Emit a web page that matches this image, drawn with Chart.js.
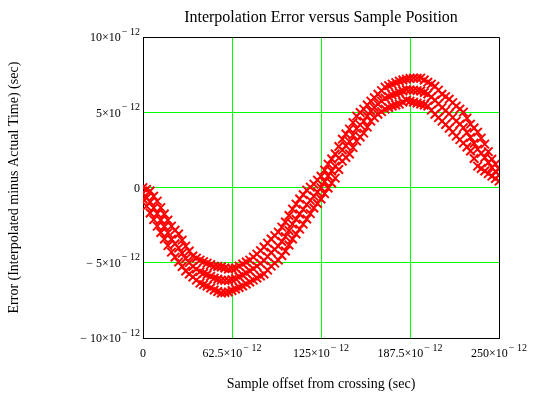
<!DOCTYPE html>
<html>
<head>
<meta charset="utf-8">
<script src="https://cdn.jsdelivr.net/npm/chart.js@4/dist/chart.umd.min.js"></script>
<style>
  html, body { margin: 0; padding: 0; background: #fff; }
  #wrap { width: 545px; height: 397px; }
</style>
</head>
<body>
<div id="wrap"><canvas id="chart" width="545" height="397"></canvas></div>
<script>
// sample offsets (units of 1e-12 sec)
const sampleOffsets = [0, 5, 10, 15, 20, 25, 30, 35, 40, 45, 50, 55, 60, 65, 70, 75, 80, 85, 90, 95,
	100, 105, 110, 115, 120, 125, 130, 135, 140, 145, 150, 155, 160, 165, 170, 175, 180, 185, 190, 195,
	200, 205, 210, 215, 220, 225, 230, 235, 240, 245, 250];
const halfOffsets = [2.5, 7.5, 12.5, 17.5, 22.5, 27.5, 32.5, 37.5, 42.5, 47.5, 52.5, 57.5, 62.5, 67.5, 72.5, 77.5, 82.5, 87.5, 92.5, 97.5,
	102.5, 107.5, 112.5, 117.5, 122.5, 127.5, 132.5, 137.5, 142.5, 147.5, 152.5, 157.5, 162.5, 167.5, 172.5, 177.5, 182.5, 187.5, 192.5, 197.5,
	202.5, 207.5, 212.5, 217.5, 222.5, 227.5, 232.5, 237.5, 242.5, 247.5];

// error (units of 1e-12 sec): upper edge, middle, lower edge
const errUpper = [0.0, -0.23, -0.9, -1.76, -2.56, -3.09, -3.89, -4.55, -4.82, -5.02, -5.22, -5.28, -5.42, -5.35, -5.08, -4.82, -4.42, -3.95, -3.42, -2.96,
	-2.29, -1.43, -0.76, -0.17, 0.23, 0.76, 1.56, 2.23, 3.22, 3.89, 4.75, 5.22, 5.75, 6.21, 6.68, 6.88, 7.08, 7.21, 7.28, 7.28,
	7.01, 6.74, 6.21, 5.88, 5.42, 5.02, 4.22, 3.69, 2.89, 1.89, 1.23];
const errMid = [-0.38, -0.96, -1.73, -2.59, -3.43, -4.02, -4.72, -5.25, -5.59, -5.78, -6.02, -6.15, -6.18, -6.05, -5.81, -5.55, -5.22, -4.85, -4.32, -3.89,
	-3.26, -2.43, -1.76, -1.13, -0.57, 0.0, 0.77, 1.43, 2.49, 3.06, 3.92, 4.42, 5.09, 5.55, 5.95, 6.15, 6.32, 6.51, 6.48, 6.42,
	6.22, 5.81, 5.32, 4.92, 4.42, 3.99, 3.33, 2.56, 2.0, 1.33, 0.83];
const errLower = [-0.76, -1.69, -2.56, -3.42, -4.29, -4.95, -5.55, -5.95, -6.35, -6.54, -6.81, -7.01, -6.94, -6.74, -6.54, -6.28, -6.01, -5.75, -5.22, -4.82,
	-4.22, -3.42, -2.76, -2.09, -1.36, -0.76, -0.03, 0.63, 1.76, 2.23, 3.09, 3.62, 4.42, 4.88, 5.22, 5.42, 5.55, 5.81, 5.68, 5.55,
	5.42, 4.88, 4.42, 3.95, 3.42, 2.96, 2.43, 1.43, 1.10, 0.76, 0.43];

// same band at the half offsets
const errUpperB = [-0.12, -0.57, -1.33, -2.16, -2.83, -3.49, -4.22, -4.69, -4.92, -5.12, -5.25, -5.35, -5.39, -5.22, -4.95, -4.62, -4.19, -3.69, -3.19, -2.63,
	-1.86, -1.10, -0.47, 0.03, 0.50, 1.16, 1.90, 2.73, 3.56, 4.32, 4.99, 5.49, 5.98, 6.45, 6.78, 6.98, 7.15, 7.25, 7.28, 7.15,
	6.88, 6.48, 6.05, 5.65, 5.22, 4.62, 3.96, 3.29, 2.39, 1.56];
const errMidB = [-0.67, -1.35, -2.16, -3.01, -3.73, -4.37, -4.99, -5.42, -5.69, -5.90, -6.09, -6.17, -6.12, -5.93, -5.68, -5.39, -5.04, -4.59, -4.11, -3.58,
	-2.85, -2.10, -1.45, -0.85, -0.29, 0.39, 1.10, 1.96, 2.78, 3.49, 4.17, 4.76, 5.32, 5.75, 6.05, 6.24, 6.42, 6.50, 6.45, 6.32,
	6.02, 5.57, 5.12, 4.67, 4.21, 3.66, 2.95, 2.28, 1.67, 1.08];
const errLowerB = [-1.23, -2.13, -2.99, -3.86, -4.62, -5.25, -5.75, -6.15, -6.45, -6.68, -6.91, -6.98, -6.84, -6.64, -6.41, -6.15, -5.88, -5.49, -5.02, -4.52,
	-3.82, -3.09, -2.43, -1.73, -1.06, -0.40, 0.30, 1.20, 2.00, 2.66, 3.36, 4.02, 4.65, 5.05, 5.32, 5.49, 5.68, 5.75, 5.62, 5.49,
	5.15, 4.65, 4.19, 3.69, 3.19, 2.70, 1.93, 1.27, 0.93, 0.60];

// tick values and labels: [mantissa, exponent]
const xTickValues = [0, 62.5, 125, 187.5, 250];
const xTickLabels = [['0', ''], ['62.5\u00d710', '\u2212 12'], ['125\u00d710', '\u2212 12'], ['187.5\u00d710', '\u2212 12'], ['250\u00d710', '\u2212 12']];
const yTickValues = [10, 5, 0, -5, -10];
const yTickLabels = [['10\u00d710', '\u2212 12'], ['5\u00d710', '\u2212 12'], ['0', ''], ['\u2212 5\u00d710', '\u2212 12'], ['\u2212 10\u00d710', '\u2212 12']];

const SERIF = '"Liberation Serif", "Times New Roman", serif';

function pts(xs, ys) { return xs.map((x, i) => ({ x, y: ys[i] })); }
function band(xs, ys) {
	return { data: pts(xs, ys), pointStyle: 'crossRot', pointRadius: 6, pointBorderWidth: 2,
		borderColor: '#ff0000', backgroundColor: '#ff0000', showLine: false };
}

// draws tick labels with a raised exponent, like 10×10^-12
const superTicks = {
	id: 'superTicks',
	afterDraw(chart) {
		const c = chart.ctx, xs = chart.scales.x, ys = chart.scales.y;
		const drawLabel = (lab, px, py, align) => {
			c.font = '12px ' + SERIF;
			const w1 = c.measureText(lab[0]).width;
			c.font = '10px ' + SERIF;
			const w2 = lab[1] ? c.measureText(lab[1]).width + 1 : 0;
			const total = w1 + w2;
			let left = align === 'right' ? px - total : px - total / 2;
			c.fillStyle = '#000';
			c.textBaseline = 'middle';
			c.textAlign = 'left';
			c.font = '12px ' + SERIF;
			c.fillText(lab[0], left, py);
			if (lab[1]) {
				c.font = '10px ' + SERIF;
				c.fillText(lab[1], left + w1 + 1, py - 6);
			}
		};
		c.save();
		xTickValues.forEach((v, i) => drawLabel(xTickLabels[i], xs.getPixelForValue(v), chart.chartArea.bottom + 16, 'center'));
		yTickValues.forEach((v, i) => drawLabel(yTickLabels[i], chart.chartArea.left - 3, ys.getPixelForValue(v) + 1, 'right'));
		c.restore();
	}
};

const gridColor = (min, max) => ctx => (ctx.tick && (ctx.tick.value === min || ctx.tick.value === max)) ? '#000000' : '#00ff00';

new Chart(document.getElementById('chart'), {
	type: 'scatter',
	data: {
		datasets: [
			band(sampleOffsets, errUpper), band(sampleOffsets, errMid), band(sampleOffsets, errLower),
			band(halfOffsets, errUpperB), band(halfOffsets, errMidB), band(halfOffsets, errLowerB)
		]
	},
	options: {
		responsive: false,
		animation: false,
		layout: { padding: { left: 0, right: 46, top: 0, bottom: 0 } },
		plugins: {
			legend: { display: false },
			tooltip: { enabled: false },
			title: {
				display: true, text: 'Interpolation Error versus Sample Position', fullSize: false,
				color: '#000', font: { family: SERIF, size: 16, weight: 'normal' }, padding: { top: 8, bottom: 10 }
			}
		},
		scales: {
			x: {
				type: 'linear', min: 0, max: 250,
				afterBuildTicks: s => { s.ticks = xTickValues.map(v => ({ value: v })); },
				afterFit: s => { s.height = 59; },
				ticks: { display: false },
				grid: { color: gridColor(0, 250), lineWidth: 1, drawTicks: false },
				border: { color: '#000', width: 1 },
				title: { display: true, text: 'Sample offset from crossing (sec)', color: '#000',
					font: { family: SERIF, size: 14 }, padding: { top: 4, bottom: 4 } }
			},
			y: {
				type: 'linear', min: -10, max: 10,
				afterBuildTicks: s => { s.ticks = yTickValues.map(v => ({ value: v })); },
				afterFit: s => { s.width = 143; },
				ticks: { display: false },
				grid: { color: gridColor(-10, 10), lineWidth: 1, drawTicks: false },
				border: { color: '#000', width: 1 },
				title: { display: true, text: 'Error (Interpolated minus Actual Time) (sec)', color: '#000',
					font: { family: SERIF, size: 14 }, padding: { top: 6, bottom: 4 } }
			}
		}
	},
	plugins: [superTicks]
});
</script>
</body>
</html>
